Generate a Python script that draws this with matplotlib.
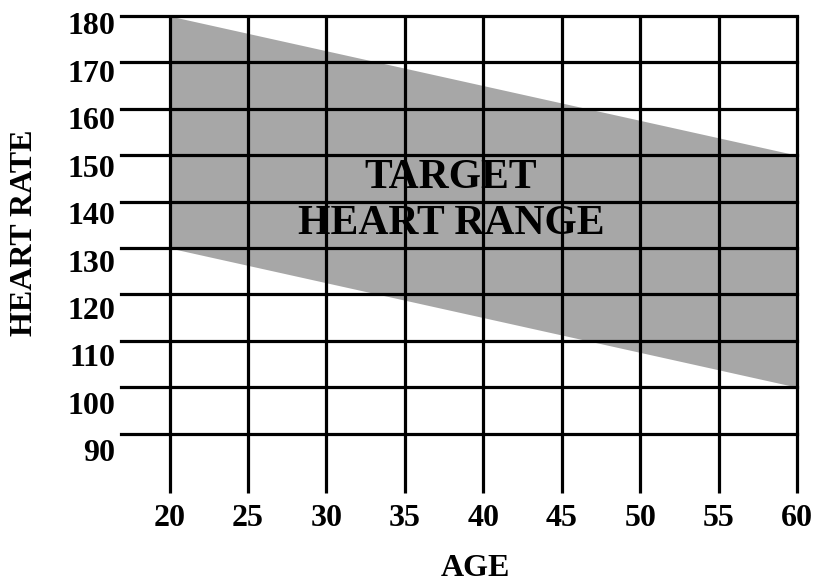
import matplotlib
matplotlib.use("Agg")
import matplotlib.pyplot as plt
import matplotlib.transforms as mtransforms

ages = [20, 60]
upper_hr = [180, 150]
lower_hr = [130, 100]
x_ticks = [20, 25, 30, 35, 40, 45, 50, 55, 60]
y_ticks = [90, 100, 110, 120, 130, 140, 150, 160, 170, 180]
band_label = "TARGET\nHEART RANGE"
x_label = "AGE"
y_label = "HEART RATE"

serif = ["Liberation Serif", "DejaVu Serif"]

fig = plt.figure(figsize=(8.17, 5.86), dpi=100)
W, H = 817, 586
left_px, right_px, top_px, bot_px = 121, 797, 16, 493
ax = fig.add_axes([left_px / W, 1 - bot_px / H, (right_px - left_px) / W, (bot_px - top_px) / H])
ax.set_xlim(16.9, 60)
ax.set_ylim(77.2, 180)
for s in ax.spines.values():
    s.set_visible(False)
ax.set_xticks([])
ax.set_yticks([])

ax.fill_between(ages, lower_hr, upper_hr, color="#a7a7a7", linewidth=0, zorder=1)
ax.text(451 / W, 1 - 201 / H, band_label, ha="center", va="center", fontsize=30,
        fontweight="bold", family=serif, linespacing=1.3, zorder=2,
        transform=fig.transFigure)

for y in y_ticks:
    ax.axhline(y, color="black", lw=2.3, zorder=3, clip_on=False)
for x in x_ticks:
    ax.plot([x, x], [77.2, 180], color="black", lw=2.3, zorder=3,
            solid_capstyle="butt", clip_on=False)

for y in y_ticks:
    off = mtransforms.ScaledTranslation(-6 / 100, -(11 + (180 - y) / 10) / 100, fig.dpi_scale_trans)
    ax.text(ax.get_xlim()[0], y, str(y), ha="right", va="center", fontsize=23,
            fontweight="bold", family=serif, transform=ax.transData + off)
for x in x_ticks:
    off = mtransforms.ScaledTranslation(0, -25 / 100, fig.dpi_scale_trans)
    ax.text(x, 77.2, str(x), ha="center", va="center", fontsize=23,
            fontweight="bold", family=serif, transform=ax.transData + off)

fig.text(475 / W, 1 - 568 / H, x_label, ha="center", va="center", fontsize=23,
         fontweight="bold", family=serif)
fig.text(25 / W, 1 - 233 / H, y_label, ha="center", va="center", fontsize=23,
         fontweight="bold", family=serif, rotation=90)

fig.savefig("out.png", dpi=100)
